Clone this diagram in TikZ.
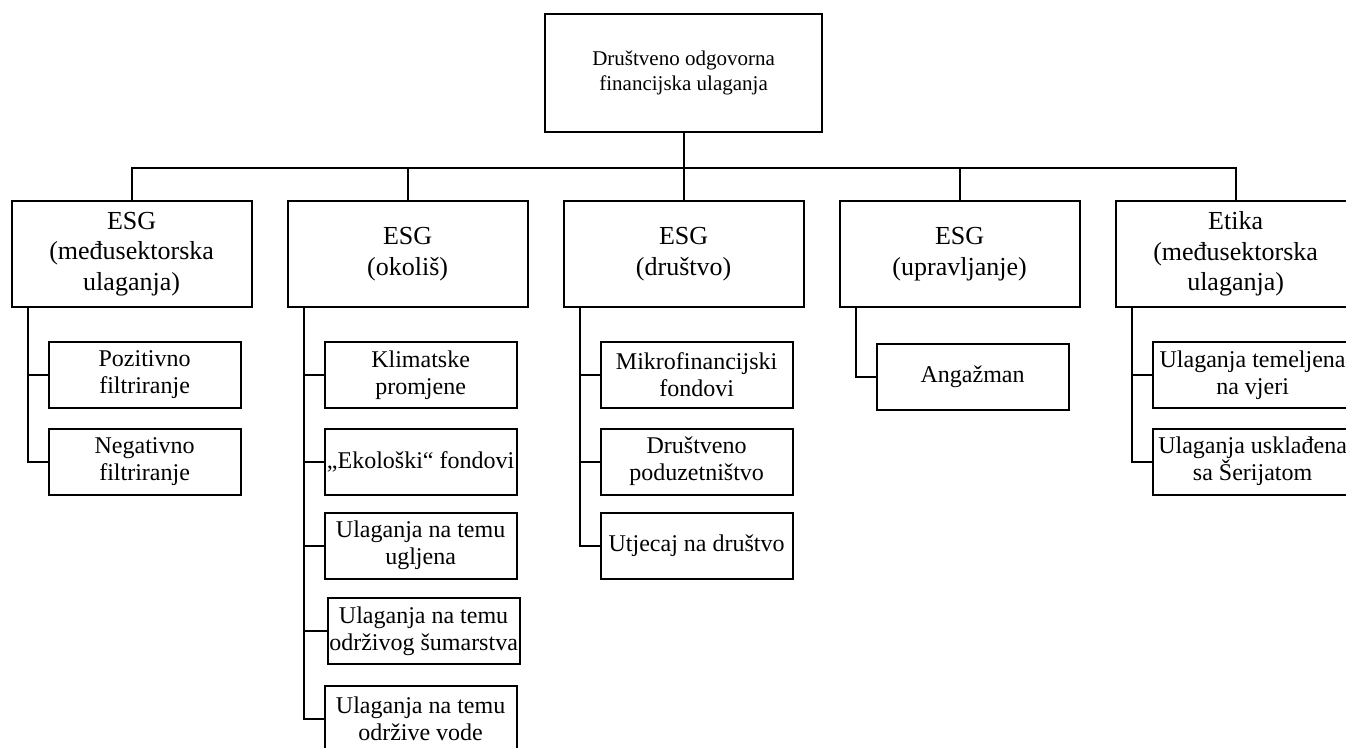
\documentclass[tikz,border=0pt]{standalone}
\usepackage{fontspec}
\setmainfont{Liberation Serif}
\tikzset{
  box/.style={draw, line width=2pt, inner sep=0pt, align=center},
  rootbox/.style={box, minimum width=277pt, minimum height=118pt, font=\fontsize{21}{25}\selectfont},
  catbox/.style={box, minimum width=240pt, minimum height=106pt, font=\fontsize{26}{30.5}\selectfont},
  leafbox/.style={box, minimum width=192pt, minimum height=66pt, font=\fontsize{24}{27}\selectfont},
  wideleaf/.style={leafbox, minimum width=200pt},
  link/.style={line width=2pt},
}
\begin{document}
\begin{tikzpicture}[x=1pt, y=-1pt]
\useasboundingbox (0,0) rectangle (1346,747);
\clip (0,0) rectangle (1346,747);
% root
\node[rootbox] (root) at (683.6,73) {Društveno odgovorna\\financijska ulaganja};
% categories
\node[catbox] (c1) at (131.6,254) {ESG\\(međusektorska\\ulaganja)};
\node[catbox] (c2) at (407.6,254) {ESG\\(okoliš)};
\node[catbox] (c3) at (683.6,254) {ESG\\(društvo)};
\node[catbox] (c4) at (959.6,254) {ESG\\(upravljanje)};
\node[catbox] (c5) at (1235.6,254) {Etika\\(međusektorska\\ulaganja)};
% bus
\coordinate (bus) at (683.6,168);
\draw[link] (root.south) -- (bus);
\foreach \c in {c1,c2,c3,c4,c5} \draw[link] (bus) -| (\c.north);
% leaves of c1
\node[leafbox] (a1) at (144.6,375) {Pozitivno\\filtriranje};
\node[leafbox] (a2) at (144.6,461.5) {Negativno\\filtriranje};
% leaves of c2
\node[leafbox] (b1) at (420.6,375) {Klimatske\\promjene};
\node[leafbox] (b2) at (420.6,461.5) {„Ekološki“ fondovi};
\node[leafbox] (b3) at (420.6,545.5) {Ulaganja na temu\\ugljena};
\node[leafbox] (b4) at (423.6,631) {Ulaganja na temu\\održivog šumarstva};
\node[leafbox] (b5) at (420.6,719) {Ulaganja na temu\\održive vode};
% leaves of c3
\node[leafbox] (d1) at (696.6,375) {Mikrofinancijski\\fondovi};
\node[leafbox] (d2) at (696.6,461.5) {Društveno\\poduzetništvo};
\node[leafbox] (d3) at (696.6,545.5) {Utjecaj na društvo};
% leaf of c4
\node[leafbox] (e1) at (972.6,377) {Angažman};
% leaves of c5
\node[wideleaf] (f1) at (1252.6,375) {Ulaganja temeljena\\na vjeri};
\node[wideleaf] (f2) at (1252.6,461.5) {Ulaganja usklađena\\sa Šerijatom};
% trunk connectors
\foreach \p/\c in {c1/a1,c1/a2,c2/b1,c2/b2,c2/b3,c2/b4,c2/b5,c3/d1,c3/d2,c3/d3,c4/e1,c5/f1,c5/f2}
  \draw[link] ([xshift=17pt]\p.south west) |- (\c.west);
\end{tikzpicture}
\end{document}
